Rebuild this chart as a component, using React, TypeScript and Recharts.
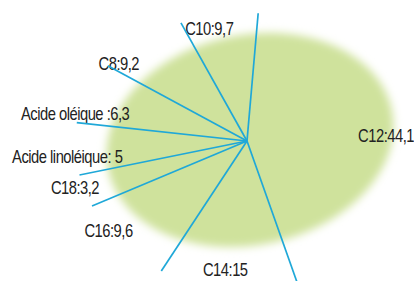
import { PieChart, Pie, Customized } from "recharts";

// fatty acid profile, in slice order (counter-clockwise from the top line)
const categories = ["C10", "C8", "Acide oléique", "Acide linoléique", "C18", "C16", "C14", "C12"];
const values = [9.7, 9.2, 6.3, 5, 3.2, 9.6, 15, 44.1];
const sliceLabels = [
  "C10:9,7",
  "C8:9,2",
  "Acide oléique :6,3",
  "Acide linoléique: 5",
  "C18:3,2",
  "C16:9,6",
  "C14:15",
  "C12:44,1",
];

const data = categories.map((name, i) => ({ name, value: values[i], label: sliceLabels[i] }));

const W = 414;
const H = 281;
const CX = 247;
const CY = 141;
const RAD = Math.PI / 180;

// soft green blob behind the slice lines
const Backdrop = () => (
  <g>
    <defs>
      <filter id="soft" x="-20%" y="-20%" width="140%" height="140%">
        <feGaussianBlur stdDeviation="4" />
      </filter>
    </defs>
    <ellipse
      cx={250}
      cy={140}
      rx={145}
      ry={105}
      transform="rotate(-12 250 140)"
      fill="#cfe29c"
      filter="url(#soft)"
    />
  </g>
);

// draws the slice boundary line + its label
const renderSlice = (props: any) => {
  const { cx, cy, startAngle, midAngle, payload, index } = props;
  const a = startAngle * RAD;
  // line length follows an ellipse around the centre (longer below)
  const ry = Math.sin(a) > 0 ? 128 : 150;
  const len = 1 / Math.sqrt(Math.cos(a) ** 2 / (172 * 172) + Math.sin(a) ** 2 / (ry * ry));
  const x2 = cx + len * Math.cos(a);
  const y2 = cy - len * Math.sin(a);
  const m = midAngle * RAD;
  const lx = Math.min(cx + 180 * Math.cos(m), W - 28);
  const ly = Math.min(cy - 125 * Math.sin(m) + 10, H - 12);
  return (
    <g key={`slice-${index}`}>
      <line x1={cx} y1={cy} x2={x2} y2={y2} stroke="#1fa8d8" strokeWidth={1.7} />
      {/* condensed look: squeeze the text horizontally */}
      <text
        transform={`translate(${lx},${ly}) scale(0.82,1)`}
        x={0}
        y={0}
        textAnchor="middle"
        dominantBaseline="central"
        fill="#222"
        fontSize={18}
        letterSpacing={-0.6}
        fontFamily="'Liberation Sans', Arial, sans-serif"
      >
        {payload.label}
      </text>
    </g>
  );
};

export default function App() {
  return (
    <div style={{ position: "absolute", left: 0, top: 0, width: W, height: H, background: "#fff" }}>
      <PieChart width={W} height={H} margin={{ top: 0, right: 0, bottom: 0, left: 0 }}>
        <Customized component={Backdrop} />
        <Pie
          data={data}
          dataKey="value"
          nameKey="name"
          cx={CX}
          cy={CY}
          startAngle={85}
          endAngle={445}
          outerRadius={90}
          fill="none"
          stroke="none"
          label={renderSlice}
          labelLine={false}
          isAnimationActive={false}
        />
      </PieChart>
    </div>
  );
}
